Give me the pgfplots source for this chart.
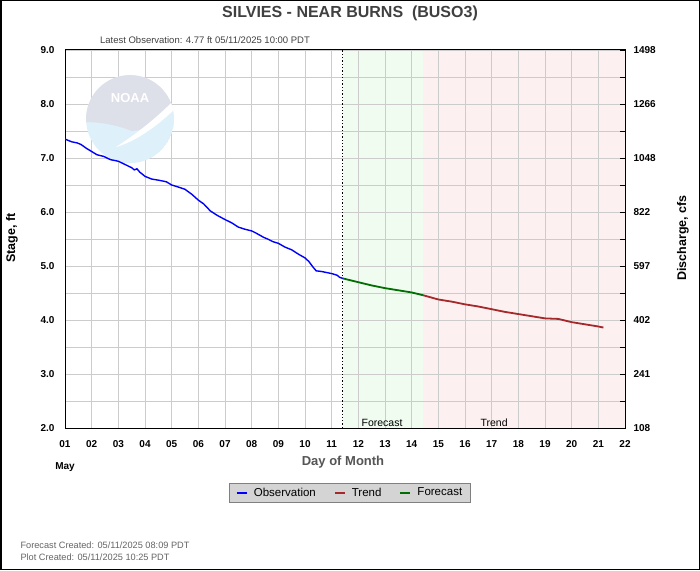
\documentclass[border=0pt]{standalone}
\usepackage{fontspec}
\setmainfont{Liberation Sans}
\usepackage{pgfplots}
\pgfplotsset{compat=1.18}
\definecolor{obsblue}{RGB}{0,0,255}
\definecolor{fcgreen}{RGB}{0,110,0}
\definecolor{trendred}{RGB}{165,40,42}
\definecolor{shgreen}{RGB}{240,252,240}
\definecolor{shred}{RGB}{253,240,240}
\definecolor{gridgray}{RGB}{204,204,204}
\definecolor{titlegray}{RGB}{64,64,64}
\definecolor{lblgray}{RGB}{85,85,85}
\definecolor{footgray}{RGB}{100,100,100}
\definecolor{noaagray}{RGB}{221,223,233}
\definecolor{noaacyan}{RGB}{222,241,250}
\definecolor{leggray}{RGB}{212,212,212}
\begin{document}
\begin{tikzpicture}
\begin{axis}[
 set layers,
 at={(65pt,142pt)}, anchor=south west,
 width=560pt, height=378pt, scale only axis,
 xmin=1, xmax=22, ymin=2, ymax=9,
 xtick={1,...,22},
 xticklabels={01,02,03,04,05,06,07,08,09,10,11,12,13,14,15,16,17,18,19,20,21,22},
 ytick={2,...,9},
 yticklabels={2.0,3.0,4.0,5.0,6.0,7.0,8.0,9.0},
 minor y tick num=1,
 xmajorgrids, ymajorgrids, yminorgrids,
 major grid style={gridgray, line width=0.8pt},
 minor grid style={gridgray, line width=0.8pt},
 major tick length=0pt, minor tick length=0pt,
 axis line style={black, line width=1pt},
 /pgf/number format/assume math mode=true,
 tick label style={font=\fontsize{10}{12}\selectfont\bfseries},
 yticklabel style={xshift=-7pt},
 xticklabel style={yshift=-9pt},
 legend style={at={(0.509,-0.171)}, anchor=center, legend columns=3,
   fill=leggray, draw=gray, line width=0.8pt,
   font=\fontsize{11.5}{13}\selectfont, inner xsep=6pt, inner ysep=2.5pt,
   /tikz/every odd column/.append style={column sep=4pt},
   /tikz/every even column/.append style={column sep=16pt}},
 legend image code/.code={\draw[#1, line width=2pt] (0pt,0pt) -- (10pt,0pt);},
]
\begin{pgfonlayer}{axis background}
\fill[shgreen] (axis cs:11.417,2) rectangle (axis cs:14.417,9);
\fill[shred] (axis cs:14.417,2) rectangle (axis cs:22,9);
\end{pgfonlayer}
% NOAA watermark
\begin{scope}
\clip (axis cs:3.44,7.72) circle [radius=44pt];
\fill[noaacyan] (axis cs:3.44,7.72) circle [radius=44pt];
\fill[noaagray] (axis cs:1.4,9.1) -- (axis cs:5.5,9.1) -- (axis cs:5.5,8.2)
  .. controls (axis cs:4.6,7.7) and (axis cs:4.0,7.5) .. (axis cs:3.5,7.5)
  .. controls (axis cs:3.0,7.6) and (axis cs:2.2,7.7) .. (axis cs:1.4,7.65) -- cycle;
\fill[white] (axis cs:2.9,7.2) .. controls (axis cs:3.6,7.42) and (axis cs:4.5,7.75) .. (axis cs:5.5,8.28)
  -- (axis cs:5.5,8.1) .. controls (axis cs:4.5,7.57) and (axis cs:3.6,7.3) .. (axis cs:2.9,7.2) -- cycle;
\end{scope}
\node[white, font=\fontsize{13}{13}\selectfont\bfseries] at (axis cs:3.44,8.11) {NOAA};
\draw[black, dotted, line width=1.3pt] (axis cs:11.417,2) -- (axis cs:11.417,9);
\node[anchor=base, font=\fontsize{10.5}{12}\selectfont, inner sep=0pt] at (axis cs:12.89,2.02) {Forecast};
\node[anchor=base, font=\fontsize{10.5}{12}\selectfont, inner sep=0pt] at (axis cs:17.09,2.02) {Trend};
\addplot[obsblue, line width=1.4pt] coordinates {
(1.00,7.35)(1.10,7.33)(1.25,7.30)(1.45,7.28)(1.60,7.25)(1.80,7.18)(2.00,7.12)
(2.20,7.06)(2.45,7.03)(2.70,6.97)(3.00,6.94)(3.25,6.88)(3.50,6.82)(3.60,6.78)
(3.70,6.80)(3.80,6.74)(4.00,6.66)(4.25,6.61)(4.50,6.59)(4.80,6.56)(5.00,6.50)
(5.20,6.47)(5.50,6.42)(5.75,6.33)(6.00,6.22)(6.20,6.15)(6.45,6.02)(6.70,5.94)
(7.00,5.86)(7.25,5.80)(7.50,5.72)(7.75,5.68)(8.00,5.65)(8.20,5.60)(8.45,5.53)
(8.60,5.50)(8.80,5.45)(9.00,5.42)(9.25,5.35)(9.50,5.30)(9.75,5.22)(10.00,5.15)
(10.15,5.08)(10.30,4.98)(10.42,4.91)(10.60,4.90)(10.80,4.88)(11.00,4.86)
(11.20,4.83)(11.30,4.79)(11.42,4.77)};
\addlegendentry{Observation}
\addplot[trendred, line width=1.8pt] coordinates {
(14.42,4.46)(15.00,4.38)(15.50,4.34)(16.00,4.29)(16.50,4.25)(17.00,4.20)
(17.50,4.15)(18.00,4.11)(18.50,4.07)(19.00,4.03)(19.50,4.02)(20.00,3.96)
(20.50,3.92)(21.00,3.88)(21.19,3.86)};
\addlegendentry{Trend}
\addplot[fcgreen, line width=1.8pt] coordinates {
(11.42,4.77)(11.75,4.73)(12.00,4.70)(12.50,4.64)(13.00,4.59)(13.50,4.55)
(14.00,4.51)(14.42,4.46)};
\addlegendentry{Forecast}
\end{axis}
\begin{axis}[
 at={(65pt,142pt)}, anchor=south west,
 width=560pt, height=378pt, scale only axis,
 xmin=1, xmax=22, ymin=2, ymax=9,
 axis x line=none, axis y line*=right,
 ytick={2,...,9},
 yticklabels={108,241,402,597,822,1048,1266,1498},
 minor y tick num=1,
 tick align=inside,
 major tick length=5pt, minor tick length=5pt,
 tick style={black, line width=0.8pt},
 axis line style={black, line width=1pt},
 /pgf/number format/assume math mode=true,
 tick label style={font=\fontsize{10}{12}\selectfont\bfseries},
 yticklabel style={xshift=5pt},
]
\addplot[draw=none, forget plot] coordinates {(1,2)(22,9)};
\end{axis}
\node[titlegray, font=\fontsize{16}{18}\selectfont\bfseries] at (350pt,557pt) {SILVIES - NEAR BURNS\ \ (BUSO3)};
\node[titlegray, font=\fontsize{9.5}{11}\selectfont] at (205pt,530pt) {Latest Observation: 4.77 ft 05/11/2025 10:00 PDT};
\node[rotate=90, font=\fontsize{12.5}{14}\selectfont\bfseries] at (12pt,332pt) {Stage, ft};
\node[rotate=90, font=\fontsize{12.5}{14}\selectfont\bfseries] at (683pt,332pt) {Discharge, cfs};
\node[lblgray, font=\fontsize{13}{15}\selectfont\bfseries] at (343pt,108pt) {Day of Month};
\node[font=\fontsize{10}{12}\selectfont\bfseries] at (65pt,103pt) {May};
\node[footgray, anchor=west, font=\fontsize{9.2}{11}\selectfont] at (17pt,25pt) {Forecast Created: 05/11/2025 08:09 PDT};
\node[footgray, anchor=west, font=\fontsize{9.2}{11}\selectfont] at (17pt,13pt) {Plot Created: 05/11/2025 10:25 PDT};
\draw[black, line width=1.5pt] (0.75pt,0.75pt) rectangle (699.25pt,569.25pt);
\pgfresetboundingbox
\path (0pt,0pt) rectangle (700pt,570pt);
\end{tikzpicture}
\end{document}
